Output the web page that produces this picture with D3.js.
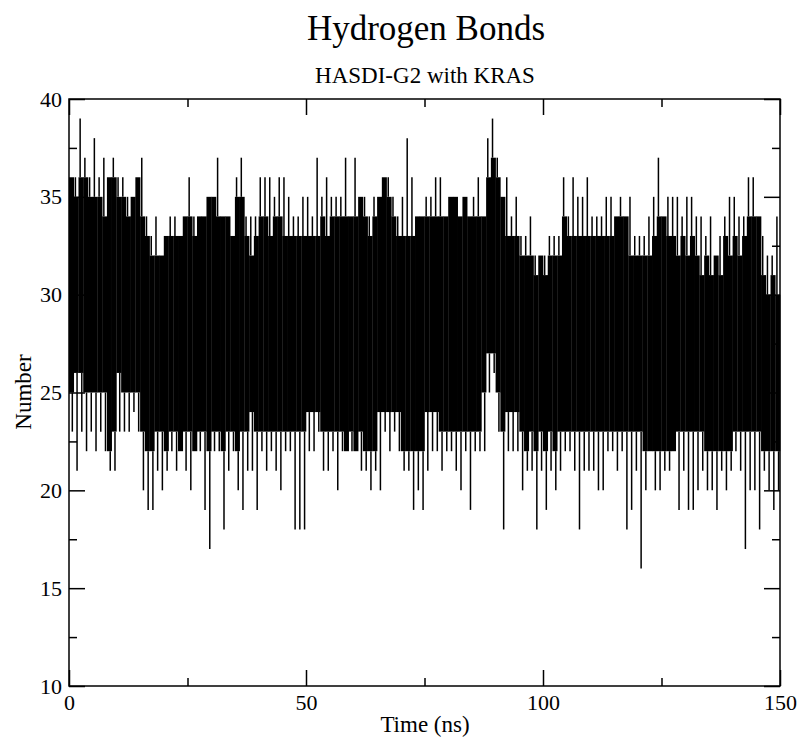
<!DOCTYPE html>
<html>
<head>
<meta charset="utf-8">
<script src="https://cdn.jsdelivr.net/npm/d3@7"></script>
<style>
  body { margin: 0; background: #fff; }
  text { font-family: "Liberation Serif", "DejaVu Serif", serif; fill: #000; }
</style>
</head>
<body>
<div id="chart"></div>
<script>
// hydrogen bond count, read per 1 ns bin (0..149 ns)
// hiVals / loVals = highest / lowest spike in the bin
var hiVals = [36,36,39,37,36,38,36,37,36,37, 36,36,35,35,36,37,34,33,34,32,
              33,34,34,33,34,36,34,34,34,35, 35,37,34,34,33,36,37,34,
              34,34,36,36,36,35,36,36,35,34, 34,35,35,34,37,35,36,35,35,35,
              37,34,37,35,35,34,35,35,36,36, 35,34,35,38,36,34,34,35,
              35,36,36,34,35,35,34,35,34,35, 36,34,38,39,37,35,36,34,35,33,
              33,34,32,32,32,33,33,33,36,34, 36,35,35,36,34,34,34,35,35,
              34,35,34,35,33,33,33,34,35,37, 34,35,35,35,34,35,35,34,34,33,
              34,32,33,34,35,35,34,34,36,36, 34,33,32,32,34];
var loVals = [23,21,23,22,23,22,23,22,21,21, 23,23,23,24,23,20,19,19,21,20,
              21,22,21,22,21,20,22,22,19,17, 22,22,18,21,22,20,19,21,
              21,19,22,21,22,21,20,22,22,18, 18,18,22,22,23,21,21,22,20,22,
              22,22,22,21,21,20,21,20,23,22, 23,22,21,21,19,20,19,21,
              22,22,21,22,22,21,20,22,19,22, 22,22,25,26,23,18,22,22,22,20,
              21,21,18,21,19,21,20,21,22,22, 21,18,21,21,21,20,20,22,22,
              21,22,18,19,21,16,20,22,20,20, 21,21,22,19,21,19,19,20,21,20,
              20,19,21,20,21,22,21,17,20,20, 18,21,20,19,20];
// dense (solid) range of the trace per bin
var bandHi = [36,35,36,36,35,35,35,34,36,36, 35,35,34,35,36,34,33,32,32,32,
              33,33,33,33,34,34,33,34,34,35, 35,34,34,34,33,35,35,33,
              32,33,34,34,33,34,34,33,33,33, 33,33,33,33,33,34,33,34,34,34,
              34,34,34,35,34,33,34,35,36,35, 34,33,33,33,33,34,34,34,
              34,34,34,34,35,35,34,35,34,34, 34,34,36,37,36,35,33,33,33,32,
              32,32,31,32,31,32,32,32,34,33, 33,33,33,33,33,33,33,33,33,
              34,34,34,32,32,32,32,32,33,34, 34,33,33,32,33,32,33,32,31,32,
              31,32,31,33,32,33,32,33,34,34, 34,31,30,31,30];
var bandLo = [25,26,26,25,25,25,25,25,22,23, 26,25,25,25,25,23,22,22,23,23,
              22,23,23,22,23,23,22,23,23,22, 23,23,22,23,23,22,23,23,
              24,23,23,23,23,23,23,23,23,23, 23,23,24,24,24,23,23,23,23,23,
              22,23,22,23,22,22,22,24,24,24, 24,24,22,22,22,22,22,24,
              24,24,23,23,23,23,23,23,23,23, 23,25,27,27,25,23,24,24,24,23,
              22,23,22,23,22,23,22,23,23,23, 23,23,23,23,23,23,23,23,23,
              23,23,23,23,23,23,22,22,22,22, 22,22,22,23,23,23,23,23,23,22,
              22,22,22,22,22,23,23,23,23,23, 23,22,22,22,22];

var xMajor = [0, 50, 100, 150];
var xMinor = [25, 75, 125];
var yMajor = [10, 15, 20, 25, 30, 35, 40];
var yMinor = [12.5, 17.5, 22.5, 27.5, 32.5, 37.5];

var w = 800, h = 738;
var padL = 69, padR = 780, padT = 99, padB = 686;

var svg = d3.select("#chart").append("svg")
    .attr("width", w).attr("height", h);

var xScale = d3.scaleLinear().domain([0, 150]).range([padL, padR]);
var yScale = d3.scaleLinear().domain([10, 40]).range([padB, padT]);

var bins = d3.range(hiVals.length);

// solid part of the trace
svg.append("g").selectAll("rect")
    .data(bins).enter().append("rect")
    .attr("x", function(i){ return xScale(i); })
    .attr("width", function(i){ return xScale(i + 1) - xScale(i) + 0.3; })
    .attr("y", function(i){ return yScale(bandHi[i]); })
    .attr("height", function(i){ return yScale(bandLo[i]) - yScale(bandHi[i]); })
    .style("fill", "black");

// spikes above and below
svg.append("g").selectAll("line")
    .data(bins).enter().append("line")
    .attr("x1", function(i){ return xScale(i + 0.35); })
    .attr("x2", function(i){ return xScale(i + 0.35); })
    .attr("y1", function(i){ return yScale(bandHi[i]); })
    .attr("y2", function(i){ return yScale(hiVals[i]); })
    .style("stroke", "black").style("stroke-width", 1.5);

svg.append("g").selectAll("line")
    .data(bins).enter().append("line")
    .attr("x1", function(i){ return xScale(i + 0.7); })
    .attr("x2", function(i){ return xScale(i + 0.7); })
    .attr("y1", function(i){ return yScale(bandLo[i]); })
    .attr("y2", function(i){ return yScale(loVals[i]); })
    .style("stroke", "black").style("stroke-width", 1.5);

// axes, ticks pointing inwards on all four sides
function axisG(axis, tx, ty) {
    var g = svg.append("g")
        .attr("transform", "translate(" + tx + "," + ty + ")")
        .call(axis);
    g.select(".domain").remove();
    g.selectAll("line").style("stroke", "black").style("stroke-width", 1.5);
    g.selectAll("text").style("font-family", "Liberation Serif, serif")
        .style("font-size", "22px").style("fill", "black");
    return g;
}

axisG(d3.axisBottom(xScale).tickValues(xMajor).tickSize(-16).tickPadding(8), 0, padB);
axisG(d3.axisBottom(xScale).tickValues(xMinor).tickSize(-8).tickFormat(""), 0, padB);
axisG(d3.axisTop(xScale).tickValues(xMajor).tickSize(-16).tickFormat(""), 0, padT);
axisG(d3.axisTop(xScale).tickValues(xMinor).tickSize(-8).tickFormat(""), 0, padT);
axisG(d3.axisLeft(yScale).tickValues(yMajor).tickSize(-16).tickPadding(7), padL, 0);
axisG(d3.axisLeft(yScale).tickValues(yMinor).tickSize(-8).tickFormat(""), padL, 0);
axisG(d3.axisRight(yScale).tickValues(yMajor).tickSize(-16).tickFormat(""), padR, 0);
axisG(d3.axisRight(yScale).tickValues(yMinor).tickSize(-8).tickFormat(""), padR, 0);

svg.append("rect")
    .attr("x", padL).attr("y", padT)
    .attr("width", padR - padL).attr("height", padB - padT)
    .style("fill", "none").style("stroke", "black").style("stroke-width", 1.5);

// titles
svg.append("text").attr("x", 426).attr("y", 40)
    .attr("text-anchor", "middle").style("font-size", "35px")
    .text("Hydrogen Bonds");
svg.append("text").attr("x", 425).attr("y", 83)
    .attr("text-anchor", "middle").style("font-size", "23px")
    .text("HASDI-G2 with KRAS");
svg.append("text").attr("x", 425).attr("y", 732)
    .attr("text-anchor", "middle").style("font-size", "23px")
    .text("Time (ns)");
svg.append("text")
    .attr("transform", "translate(31,392) rotate(-90)")
    .attr("text-anchor", "middle").style("font-size", "23px")
    .text("Number");
</script>
</body>
</html>
